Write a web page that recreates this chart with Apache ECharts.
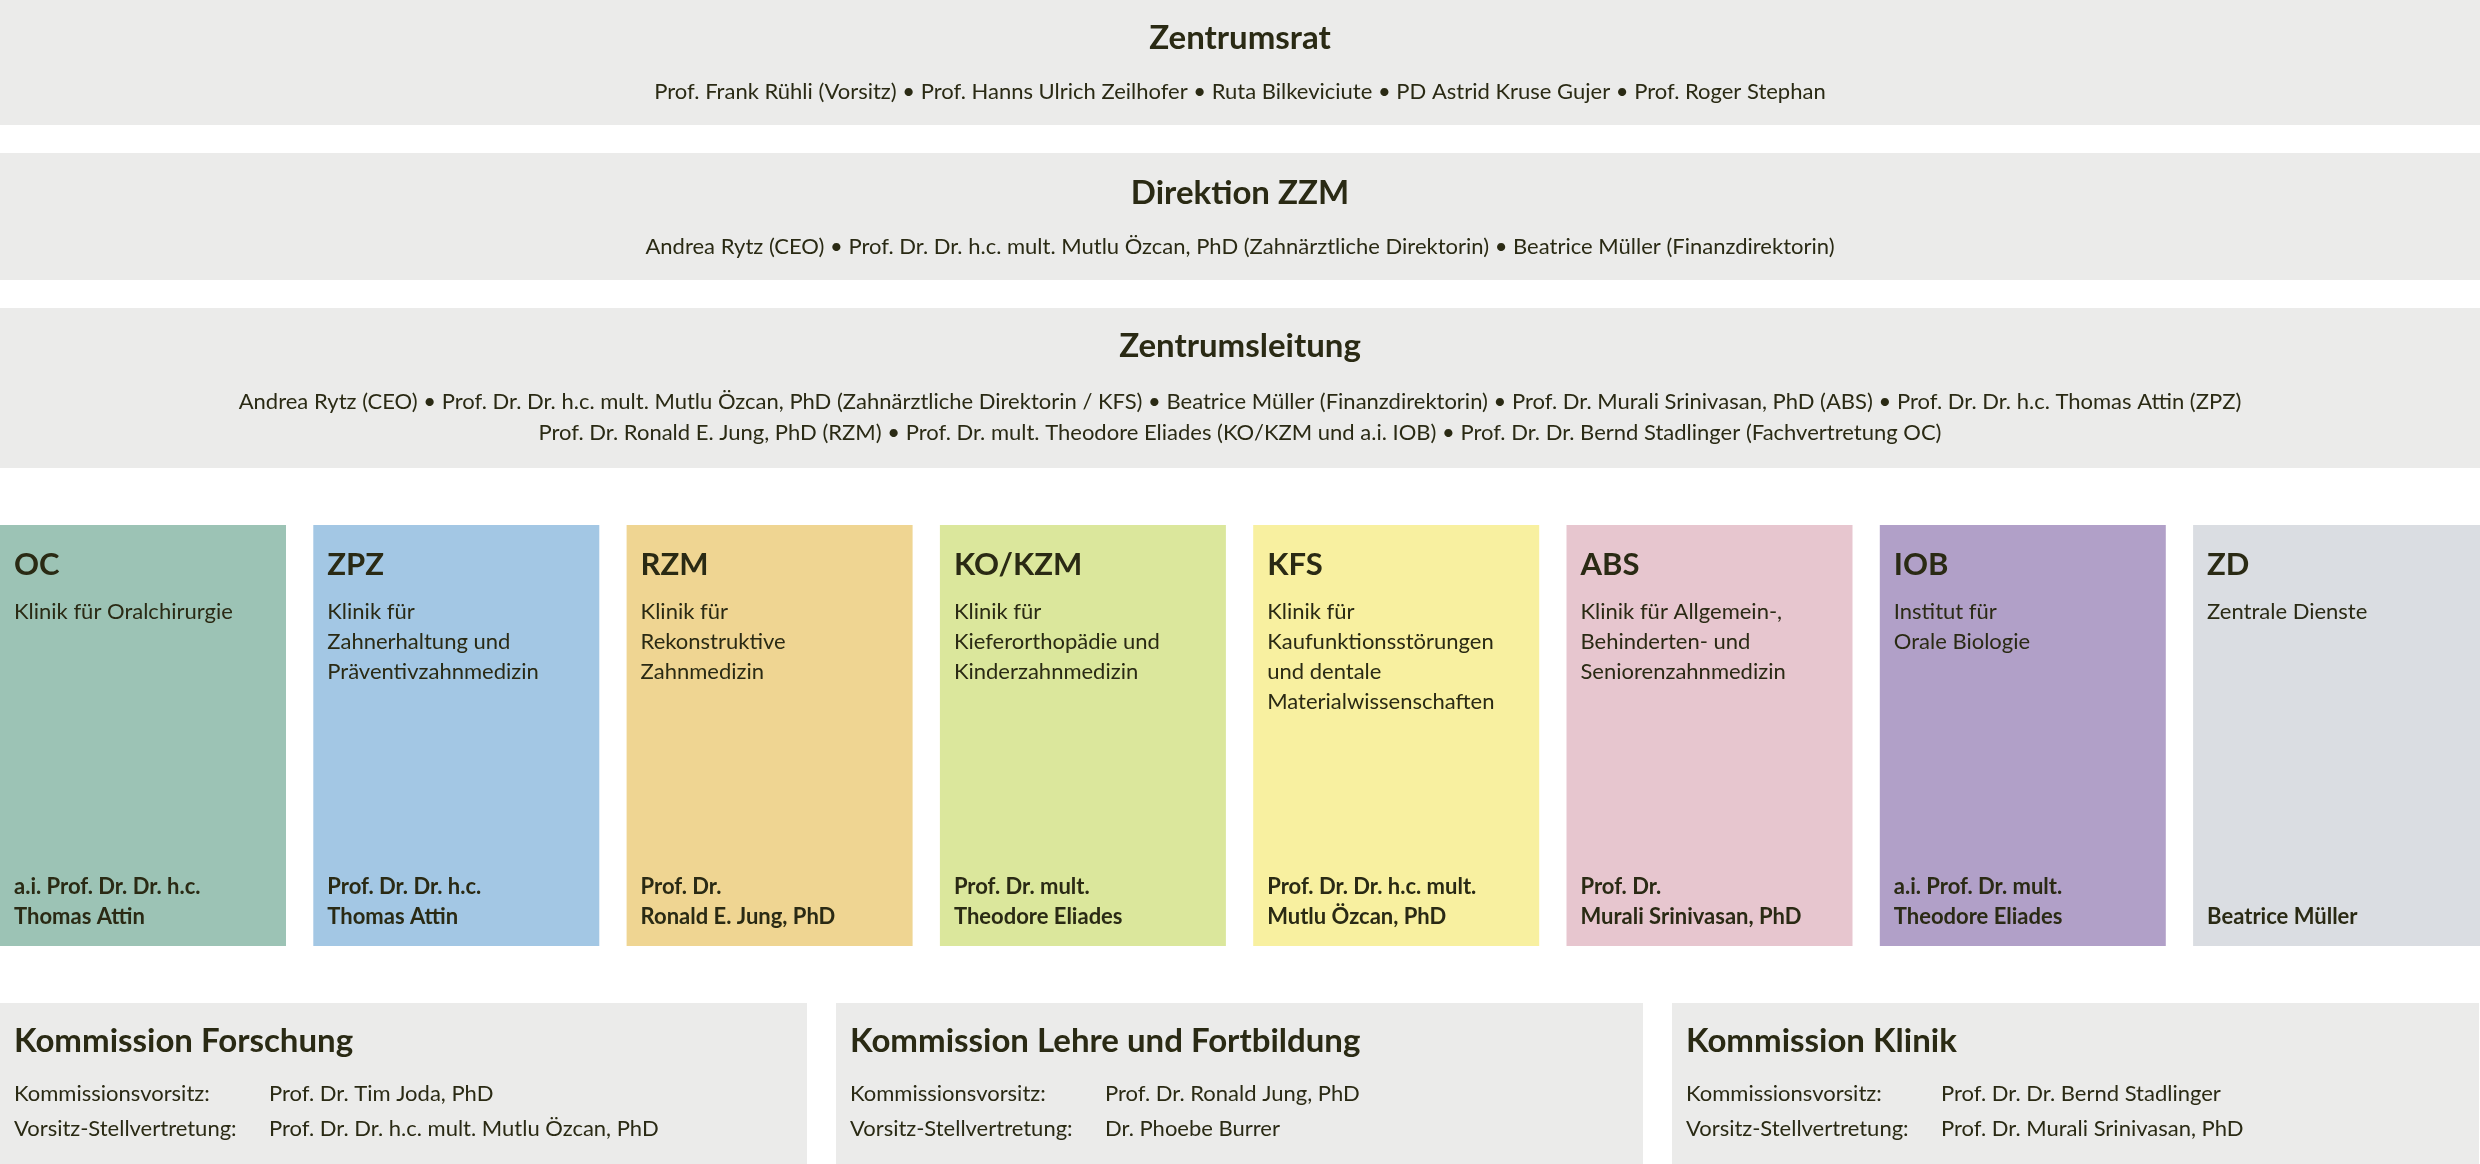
<!DOCTYPE html><html><head><meta charset="utf-8">
<script src="https://cdn.jsdelivr.net/npm/echarts@6/dist/echarts.min.js"></script>
<style>html,body{margin:0;padding:0;background:#fff}#c{width:2480px;height:1164px}</style></head><body><div id="c"></div>
<script>
const boardTitles=['Zentrumsrat','Direktion ZZM','Zentrumsleitung'];
const boardLines=[
 ['Prof. Frank Rühli (Vorsitz) • Prof. Hanns Ulrich Zeilhofer • Ruta Bilkeviciute • PD Astrid Kruse Gujer • Prof. Roger Stephan'],
 ['Andrea Rytz (CEO) • Prof. Dr. Dr. h.c. mult. Mutlu Özcan, PhD (Zahnärztliche Direktorin) • Beatrice Müller (Finanzdirektorin)'],
 ['Andrea Rytz (CEO) • Prof. Dr. Dr. h.c. mult. Mutlu Özcan, PhD (Zahnärztliche Direktorin / KFS) • Beatrice Müller (Finanzdirektorin) • Prof. Dr. Murali Srinivasan, PhD (ABS) • Prof. Dr. Dr. h.c. Thomas Attin (ZPZ)',
  'Prof. Dr. Ronald E. Jung, PhD (RZM) • Prof. Dr. mult. Theodore Eliades (KO/KZM und a.i. IOB) • Prof. Dr. Dr. Bernd Stadlinger (Fachvertretung OC)']
];
const unitCodes=['OC','ZPZ','RZM','KO/KZM','KFS','ABS','IOB','ZD'];
const unitNames=['Klinik für Oralchirurgie','Klinik für\nZahnerhaltung und\nPräventivzahnmedizin','Klinik für\nRekonstruktive\nZahnmedizin','Klinik für\nKieferorthopädie und\nKinderzahnmedizin','Klinik für\nKaufunktionsstörungen\nund dentale\nMaterialwissenschaften','Klinik für Allgemein-,\nBehinderten- und\nSeniorenzahnmedizin','Institut für\nOrale Biologie','Zentrale Dienste'];
const unitHeads=['a.i. Prof. Dr. Dr. h.c.\nThomas Attin','Prof. Dr. Dr. h.c.\nThomas Attin','Prof. Dr.\nRonald E. Jung, PhD','Prof. Dr. mult.\nTheodore Eliades','Prof. Dr. Dr. h.c. mult.\nMutlu Özcan, PhD','Prof. Dr.\nMurali Srinivasan, PhD','a.i. Prof. Dr. mult.\nTheodore Eliades','Beatrice Müller'];
const unitColors=['#9cc3b5','#a3c7e4','#efd592','#dbe79c','#f8f0a0','#e7c6cf','#b1a0c8','#dadde2'];
const comTitles=['Kommission Forschung','Kommission Lehre und Fortbildung','Kommission Klinik'];
const comChairs=['Prof. Dr. Tim Joda, PhD','Prof. Dr. Ronald Jung, PhD','Prof. Dr. Dr. Bernd Stadlinger'];
const comDeputies=['Prof. Dr. Dr. h.c. mult. Mutlu Özcan, PhD','Dr. Phoebe Burrer','Prof. Dr. Murali Srinivasan, PhD'];
const roleLabels=['Kommissionsvorsitz:','Vorsitz-Stellvertretung:'];

const F='"Source Sans Pro","Lato","Noto Sans",sans-serif';
const TXT='#2a2a14', GRAY='#ebebea';
const els=[];
const boardBoxes=[[0,125],[153,127],[308,160]];
const boardTitleY=[38,193,346];
const boardLineY=[[92],[247],[402,433]];
boardTitles.forEach((t,i)=>{
  els.push({type:'rect',shape:{x:0,y:boardBoxes[i][0],width:2480,height:boardBoxes[i][1]},style:{fill:GRAY}});
  els.push({type:'text',x:1240,y:boardTitleY[i],style:{text:t,font:'bold 33px '+F,fill:TXT,align:'center',verticalAlign:'middle'}});
  boardLines[i].forEach((l,j)=>els.push({type:'text',x:1240,y:boardLineY[i][j],style:{text:l,font:'22px '+F,fill:TXT,align:'center',verticalAlign:'middle'}}));
});
unitCodes.forEach((c,i)=>{
  const x=i*313.3;
  els.push({type:'rect',shape:{x:x,y:525,width:i==7?2480-x:286,height:421},style:{fill:unitColors[i]}});
  els.push({type:'text',x:x+14,y:565,style:{text:c,font:'bold 31px '+F,fill:TXT,verticalAlign:'middle'}});
  els.push({type:'text',x:x+14,y:597,style:{text:unitNames[i],font:'22px '+F,fill:TXT,lineHeight:30,verticalAlign:'top'}});
  const h=unitHeads[i].split('\n');
  els.push({type:'text',x:x+14,y:932,style:{text:unitHeads[i],font:'bold 22px '+F,fill:TXT,lineHeight:30,verticalAlign:'bottom'}});
});
comTitles.forEach((t,i)=>{
  const x=i*836;
  els.push({type:'rect',shape:{x:x,y:1003,width:807,height:161},style:{fill:GRAY}});
  els.push({type:'text',x:x+14,y:1041,style:{text:t,font:'bold 33px '+F,fill:TXT,verticalAlign:'middle'}});
  els.push({type:'text',x:x+14,y:1094,style:{text:roleLabels[0],font:'22px '+F,fill:TXT,verticalAlign:'middle'}});
  els.push({type:'text',x:x+14,y:1129,style:{text:roleLabels[1],font:'22px '+F,fill:TXT,verticalAlign:'middle'}});
  els.push({type:'text',x:x+269,y:1094,style:{text:comChairs[i],font:'22px '+F,fill:TXT,verticalAlign:'middle'}});
  els.push({type:'text',x:x+269,y:1129,style:{text:comDeputies[i],font:'22px '+F,fill:TXT,verticalAlign:'middle'}});
});
const chart=echarts.init(document.getElementById('c'));
chart.setOption({animation:false,graphic:{elements:els}});
</script></body></html>
